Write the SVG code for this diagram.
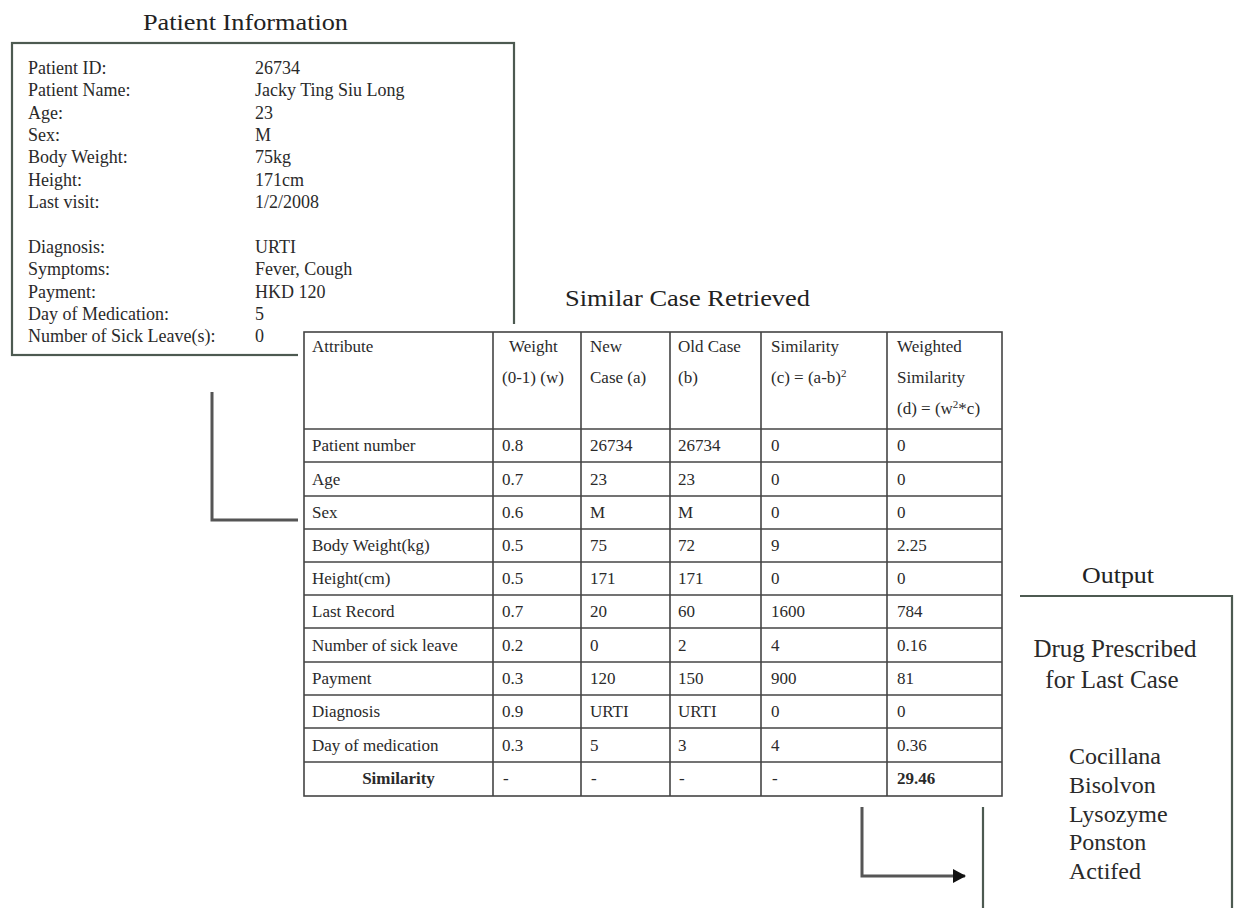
<svg xmlns="http://www.w3.org/2000/svg" width="1235" height="908" viewBox="0 0 1235 908">
<defs>
<style>
text{font-family:"Liberation Serif","Times New Roman",serif;fill:#2a2a2a}
.title{font-size:24px;fill:#222}
.pi{font-size:18px;fill:#333}
.tb{font-size:17px;fill:#333}
.b{font-weight:bold}
.out{font-size:25px;fill:#2a2a2a}
.drug{font-size:24px;fill:#2a2a2a}
.box{fill:none;stroke:#4d5a51;stroke-width:2.2}
.grid{stroke:#444;stroke-width:1.6;fill:none}
.conn{fill:none;stroke:#555;stroke-width:3}
</style>
<marker id="arrow" markerUnits="userSpaceOnUse" markerWidth="14" markerHeight="14" refX="12" refY="7" orient="auto">
<path d="M0,0 L13,7 L0,14 z" fill="#111"/>
</marker>
</defs>
<rect width="1235" height="908" fill="#fff"/>

<g id="patient-info">
<text class="title" x="143" y="30" textLength="205" lengthAdjust="spacingAndGlyphs">Patient Information</text>
<rect class="box" x="12" y="43" width="502" height="312"/>
<g class="pi">
<text x="28" y="74">Patient ID:</text><text x="255" y="74">26734</text>
<text x="28" y="96">Patient Name:</text><text x="255" y="96">Jacky Ting Siu Long</text>
<text x="28" y="119">Age:</text><text x="255" y="119">23</text>
<text x="28" y="141">Sex:</text><text x="255" y="141">M</text>
<text x="28" y="163">Body Weight:</text><text x="255" y="163">75kg</text>
<text x="28" y="186">Height:</text><text x="255" y="186">171cm</text>
<text x="28" y="208">Last visit:</text><text x="255" y="208">1/2/2008</text>
<text x="28" y="253">Diagnosis:</text><text x="255" y="253">URTI</text>
<text x="28" y="275">Symptoms:</text><text x="255" y="275">Fever, Cough</text>
<text x="28" y="298">Payment:</text><text x="255" y="298">HKD 120</text>
<text x="28" y="320">Day of Medication:</text><text x="255" y="320">5</text>
<text x="28" y="342">Number of Sick Leave(s):</text><text x="255" y="342">0</text>
</g>
</g>

<g id="connectors">
<polyline class="conn" points="212,392 212,520 300,520"/>
<polyline class="conn" points="862,807 862,876 965,876" marker-end="url(#arrow)"/>
</g>

<g id="similar-case">
<text class="title" x="565" y="306" textLength="245" lengthAdjust="spacingAndGlyphs">Similar Case Retrieved</text>
<rect x="298" y="324" width="710" height="478" fill="#fff"/>
<rect class="grid" x="304" y="332" width="698" height="464"/>
<g class="grid">
<line x1="493" y1="332" x2="493" y2="796"/>
<line x1="581" y1="332" x2="581" y2="796"/>
<line x1="670" y1="332" x2="670" y2="796"/>
<line x1="761" y1="332" x2="761" y2="796"/>
<line x1="887" y1="332" x2="887" y2="796"/>
<line x1="304" y1="429" x2="1002" y2="429"/>
<line x1="304" y1="462" x2="1002" y2="462"/>
<line x1="304" y1="496" x2="1002" y2="496"/>
<line x1="304" y1="529" x2="1002" y2="529"/>
<line x1="304" y1="562" x2="1002" y2="562"/>
<line x1="304" y1="595" x2="1002" y2="595"/>
<line x1="304" y1="628" x2="1002" y2="628"/>
<line x1="304" y1="662" x2="1002" y2="662"/>
<line x1="304" y1="695" x2="1002" y2="695"/>
<line x1="304" y1="728" x2="1002" y2="728"/>
<line x1="304" y1="762" x2="1002" y2="762"/>
</g>
<g class="tb">
<text x="312" y="352">Attribute</text>
<text x="509" y="352">Weight</text><text x="502" y="383">(0-1) (w)</text>
<text x="590" y="352">New</text><text x="590" y="383">Case (a)</text>
<text x="678" y="352">Old Case</text><text x="678" y="383">(b)</text>
<text x="771" y="352">Similarity</text><text x="771" y="383">(c) = (a-b)<tspan font-size="11" dy="-6">2</tspan></text>
<text x="897" y="352">Weighted</text><text x="897" y="383">Similarity</text><text x="897" y="414">(d) = (w<tspan font-size="11" dy="-6">2</tspan><tspan dy="6">*c)</tspan></text>

<text x="312" y="451">Patient number</text><text x="502" y="451">0.8</text><text x="590" y="451">26734</text><text x="678" y="451">26734</text><text x="771" y="451">0</text><text x="897" y="451">0</text>
<text x="312" y="485">Age</text><text x="502" y="485">0.7</text><text x="590" y="485">23</text><text x="678" y="485">23</text><text x="771" y="485">0</text><text x="897" y="485">0</text>
<text x="312" y="518">Sex</text><text x="502" y="518">0.6</text><text x="590" y="518">M</text><text x="678" y="518">M</text><text x="771" y="518">0</text><text x="897" y="518">0</text>
<text x="312" y="551">Body Weight(kg)</text><text x="502" y="551">0.5</text><text x="590" y="551">75</text><text x="678" y="551">72</text><text x="771" y="551">9</text><text x="897" y="551">2.25</text>
<text x="312" y="584">Height(cm)</text><text x="502" y="584">0.5</text><text x="590" y="584">171</text><text x="678" y="584">171</text><text x="771" y="584">0</text><text x="897" y="584">0</text>
<text x="312" y="617">Last Record</text><text x="502" y="617">0.7</text><text x="590" y="617">20</text><text x="678" y="617">60</text><text x="771" y="617">1600</text><text x="897" y="617">784</text>
<text x="312" y="651">Number of sick leave</text><text x="502" y="651">0.2</text><text x="590" y="651">0</text><text x="678" y="651">2</text><text x="771" y="651">4</text><text x="897" y="651">0.16</text>
<text x="312" y="684">Payment</text><text x="502" y="684">0.3</text><text x="590" y="684">120</text><text x="678" y="684">150</text><text x="771" y="684">900</text><text x="897" y="684">81</text>
<text x="312" y="717">Diagnosis</text><text x="502" y="717">0.9</text><text x="590" y="717">URTI</text><text x="678" y="717">URTI</text><text x="771" y="717">0</text><text x="897" y="717">0</text>
<text x="312" y="751">Day of medication</text><text x="502" y="751">0.3</text><text x="590" y="751">5</text><text x="678" y="751">3</text><text x="771" y="751">4</text><text x="897" y="751">0.36</text>
<text class="b" x="398.5" y="784" text-anchor="middle">Similarity</text><text x="503" y="784">-</text><text x="591" y="784">-</text><text x="679" y="784">-</text><text x="772" y="784">-</text><text class="b" x="897" y="784">29.46</text>
</g>
</g>

<g id="output">
<text class="title" x="1082" y="583" textLength="72" lengthAdjust="spacingAndGlyphs">Output</text>
<polyline class="box" points="1020,596 1232,596 1232,908"/>
<line class="box" x1="983" y1="807" x2="983" y2="908"/>
<text class="out" x="1115" y="657" text-anchor="middle">Drug Prescribed</text>
<text class="out" x="1112" y="688" text-anchor="middle">for Last Case</text>
<g class="drug">
<text x="1069" y="764">Cocillana</text>
<text x="1069" y="793">Bisolvon</text>
<text x="1069" y="822">Lysozyme</text>
<text x="1069" y="850">Ponston</text>
<text x="1069" y="879">Actifed</text>
</g>
</g>
</svg>
